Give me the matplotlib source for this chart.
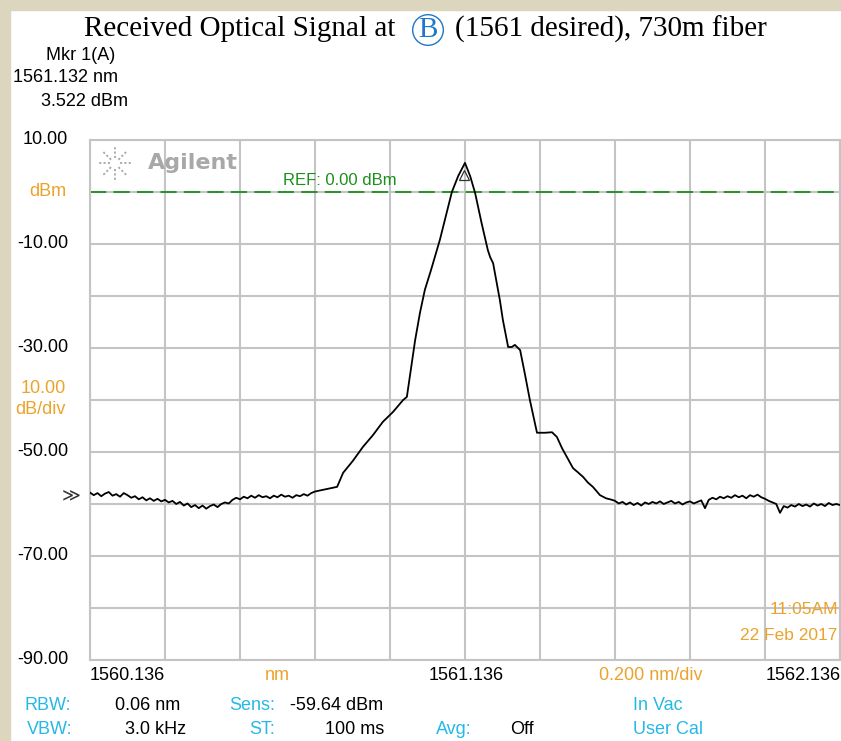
import numpy as np
import matplotlib
matplotlib.use("Agg")
import matplotlib.pyplot as plt

# trace (nm, dBm)
floor_left_wl = np.round(np.arange(1560.136, 1560.7365, 0.01), 3)
floor_left_db = [-57.8, -58.3, -57.9, -58.5, -58.0, -57.7, -58.4, -58.1, -58.6, -57.9,
                 -58.3, -58.8, -58.5, -59.1, -58.7, -59.3, -58.9, -59.4, -59.0, -59.5,
                 -59.2, -59.7, -59.4, -60.0, -59.6, -60.3, -59.9, -60.6, -60.2, -60.8,
                 -60.3, -60.9, -60.4, -60.1, -60.6, -60.0, -59.7, -59.9, -59.2, -58.8,
                 -59.1, -58.6, -58.9, -58.4, -58.8, -58.3, -58.7, -58.5, -58.9, -58.4,
                 -58.7, -58.2, -58.6, -58.4, -58.8, -58.3, -58.5, -58.1, -58.4, -57.9,
                 -57.6]

peak_wl = [1560.795, 1560.811, 1560.837, 1560.864, 1560.890, 1560.917, 1560.944,
           1560.971, 1560.981, 1560.992, 1561.003, 1561.016, 1561.029, 1561.045,
           1561.061, 1561.069, 1561.085, 1561.101, 1561.118, 1561.136, 1561.150,
           1561.163, 1561.180, 1561.197, 1561.203, 1561.211, 1561.229, 1561.237,
           1561.251, 1561.261, 1561.269, 1561.283, 1561.296, 1561.309, 1561.328,
           1561.349, 1561.368, 1561.381, 1561.395, 1561.408, 1561.424, 1561.437,
           1561.451, 1561.464, 1561.477, 1561.496, 1561.512, 1561.528]
peak_db = [-56.7, -54.0, -51.7, -49.0, -46.8, -44.2, -42.3,
           -40.0, -39.4, -34.0, -28.5, -23.2, -18.8, -15.1,
           -11.2, -9.2, -4.6, 0.0, 3.1, 5.6, 3.0,
           -0.2, -5.9, -11.2, -12.5, -13.7, -20.8, -24.6,
           -29.8, -29.8, -29.4, -30.4, -35.1, -40.0, -46.3,
           -46.3, -46.2, -47.1, -49.3, -51.0, -53.1, -53.9,
           -54.8, -55.9, -56.7, -58.3, -58.9, -59.2]

floor_right_wl = np.round(np.arange(1561.536, 1562.1365, 0.01), 3)
floor_right_db = [-59.4, -59.9, -59.6, -60.1, -59.7, -60.2, -59.8, -60.3, -59.7, -60.0,
                  -59.6, -59.9, -59.5, -60.0, -59.7, -59.4, -59.9, -59.6, -60.1, -59.7,
                  -59.5, -59.9, -59.6, -59.3, -60.8, -59.2, -58.8, -59.1, -58.6, -58.9,
                  -58.5, -58.8, -58.3, -58.7, -58.4, -58.9, -58.3, -58.6, -58.2, -58.7,
                  -59.0, -59.4, -59.7, -60.0, -61.7, -60.4, -60.7, -60.2, -60.5, -60.0,
                  -60.4, -60.1, -60.5, -59.9, -60.3, -60.0, -60.4, -59.8, -60.2, -60.0,
                  -60.2]

marker_wl = 1561.132
marker_db = 3.522
ref_db = 0.0
x_start, x_center, x_stop = 1560.136, 1561.136, 1562.136
y_top, y_bot = 10.0, -90.0
ytick_labels = {10: "10.00", -10: "-10.00", -30: "-30.00", -50: "-50.00",
                -70: "-70.00", -90: "-90.00"}

W, H = 841, 741
ORANGE = "#EBA32C"
CYAN = "#26B8E6"
GREEN = "#1A8F1A"
GRIDC = "#C4C4C4"
BLUE = "#1F77C8"


def px(x, y):
    return x / W, 1 - y / H


fig = plt.figure(figsize=(W / 100, H / 100), dpi=100, facecolor="white")

# beige window frame
fig.patches.append(plt.Rectangle((0, 0), 10 / W, 1, transform=fig.transFigure,
                                 color="#DCD6BF", zorder=0))
fig.patches.append(plt.Rectangle((0, 1 - 10 / H), 1, 10 / H, transform=fig.transFigure,
                                 color="#DCD6BF", zorder=0))

ax = fig.add_axes([90 / W, 81 / H, 750 / W, 520 / H])
wl = list(floor_left_wl) + peak_wl + list(floor_right_wl)
db = list(floor_left_db) + peak_db + list(floor_right_db)
ax.plot(wl, db, color="black", lw=1.3, zorder=3)
ax.axhline(ref_db, color=GREEN, lw=1.3, dashes=(9, 4), zorder=2)
ax.plot([marker_wl], [marker_db - 0.3], marker="^", ms=7, mfc="none", mec="#333333",
        mew=0.9, zorder=4)

ax.set_xlim(x_start, x_stop)
ax.set_ylim(y_bot, y_top)
ax.set_xticks(np.linspace(x_start, x_stop, 11))
ax.set_yticks(np.arange(y_bot, y_top + 1, 10))
ax.grid(True, color=GRIDC, lw=1.5)
ax.tick_params(length=0, labelbottom=False, labelleft=False)
for s in ax.spines.values():
    s.set_color(GRIDC)
    s.set_linewidth(1.5)

ax.text(x_start + 0.515, 0.8, "REF: 0.00 dBm", color=GREEN, fontsize=12,
        family="Liberation Sans", va="bottom", ha="left")

# Agilent logo
ax.text(0.077, 0.955, "Agilent", transform=ax.transAxes, color="#A8A8A8",
        fontsize=16, fontweight="bold", family="DejaVu Sans", va="center", ha="left")
cx, cy = 0.033, 0.955
for ang in np.arange(0, 360, 45):
    r = np.deg2rad(ang)
    dx, dy = np.cos(r), np.sin(r) * 750 / 520
    ax.plot([cx + 0.007 * dx, cx + 0.024 * dx], [cy + 0.007 * dy, cy + 0.024 * dy],
            transform=ax.transAxes, color="#A8A8A8", lw=1.3, ls=(0, (1.2, 1.2)),
            clip_on=False)

ax.text(0.997, 0.098, "11:05AM", transform=ax.transAxes, color=ORANGE,
        fontsize=12.5, family="Liberation Sans", ha="right", va="center")
ax.text(0.997, 0.048, "22 Feb 2017", transform=ax.transAxes, color=ORANGE,
        fontsize=12.5, family="Liberation Sans", ha="right", va="center")

# title
tf = dict(family="Liberation Serif", fontsize=21, va="center")
fig.text(*px(395, 29), "Received Optical Signal at", ha="right", **tf)
fig.text(*px(428, 30), "B", ha="center", color=BLUE,
         bbox=dict(boxstyle="circle,pad=0.08", fc="none", ec=BLUE, lw=1.0), **tf)
fig.text(*px(455, 29), "(1561 desired), 730m fiber", ha="left", **tf)

# marker readout
sf = dict(family="Liberation Sans", fontsize=13, va="center")
fig.text(*px(115, 55), "Mkr 1(A)", ha="right", **sf)
fig.text(*px(118, 78), "1561.132 nm", ha="right", **sf)
fig.text(*px(128, 101), "3.522 dBm", ha="right", **sf)

# y labels
for v, lab in ytick_labels.items():
    yy = 140 + (y_top - v) * 5.2
    fig.text(*px(68, yy), lab, ha="right", **sf)
fig.text(*px(66, 192), "dBm", ha="right", color=ORANGE, **sf)
fig.text(*px(66, 389), "10.00", ha="right", color=ORANGE, **sf)
fig.text(*px(66, 410), "dB/div", ha="right", color=ORANGE, **sf)
fig.text(*px(81, 496), "≫", ha="right", family="DejaVu Sans", fontsize=13,
         va="center", color="#333333")

# x labels
fig.text(*px(90, 676), "1560.136", ha="left", **sf)
fig.text(*px(277, 676), "nm", ha="center", color=ORANGE, **sf)
fig.text(*px(466, 676), "1561.136", ha="center", **sf)
fig.text(*px(651, 676), "0.200 nm/div", ha="center", color=ORANGE, **sf)
fig.text(*px(841, 676), "1562.136", ha="right", **sf)

# settings rows
fig.text(*px(71, 705), "RBW:", ha="right", color=CYAN, **sf)
fig.text(*px(115, 705), "0.06 nm", ha="left", **sf)
fig.text(*px(275, 705), "Sens:", ha="right", color=CYAN, **sf)
fig.text(*px(290, 705), "-59.64 dBm", ha="left", **sf)
fig.text(*px(633, 705), "In Vac", ha="left", color=CYAN, **sf)
fig.text(*px(72, 729), "VBW:", ha="right", color=CYAN, **sf)
fig.text(*px(125, 729), "3.0 kHz", ha="left", **sf)
fig.text(*px(275, 729), "ST:", ha="right", color=CYAN, **sf)
fig.text(*px(325, 729), "100 ms", ha="left", **sf)
fig.text(*px(472, 729), "Avg:", ha="right", color=CYAN, **sf)
fig.text(*px(510, 729), "Off", ha="left", **sf)
fig.text(*px(633, 729), "User Cal", ha="left", color=CYAN, **sf)

fig.savefig("out.png", dpi=100, facecolor="white")
